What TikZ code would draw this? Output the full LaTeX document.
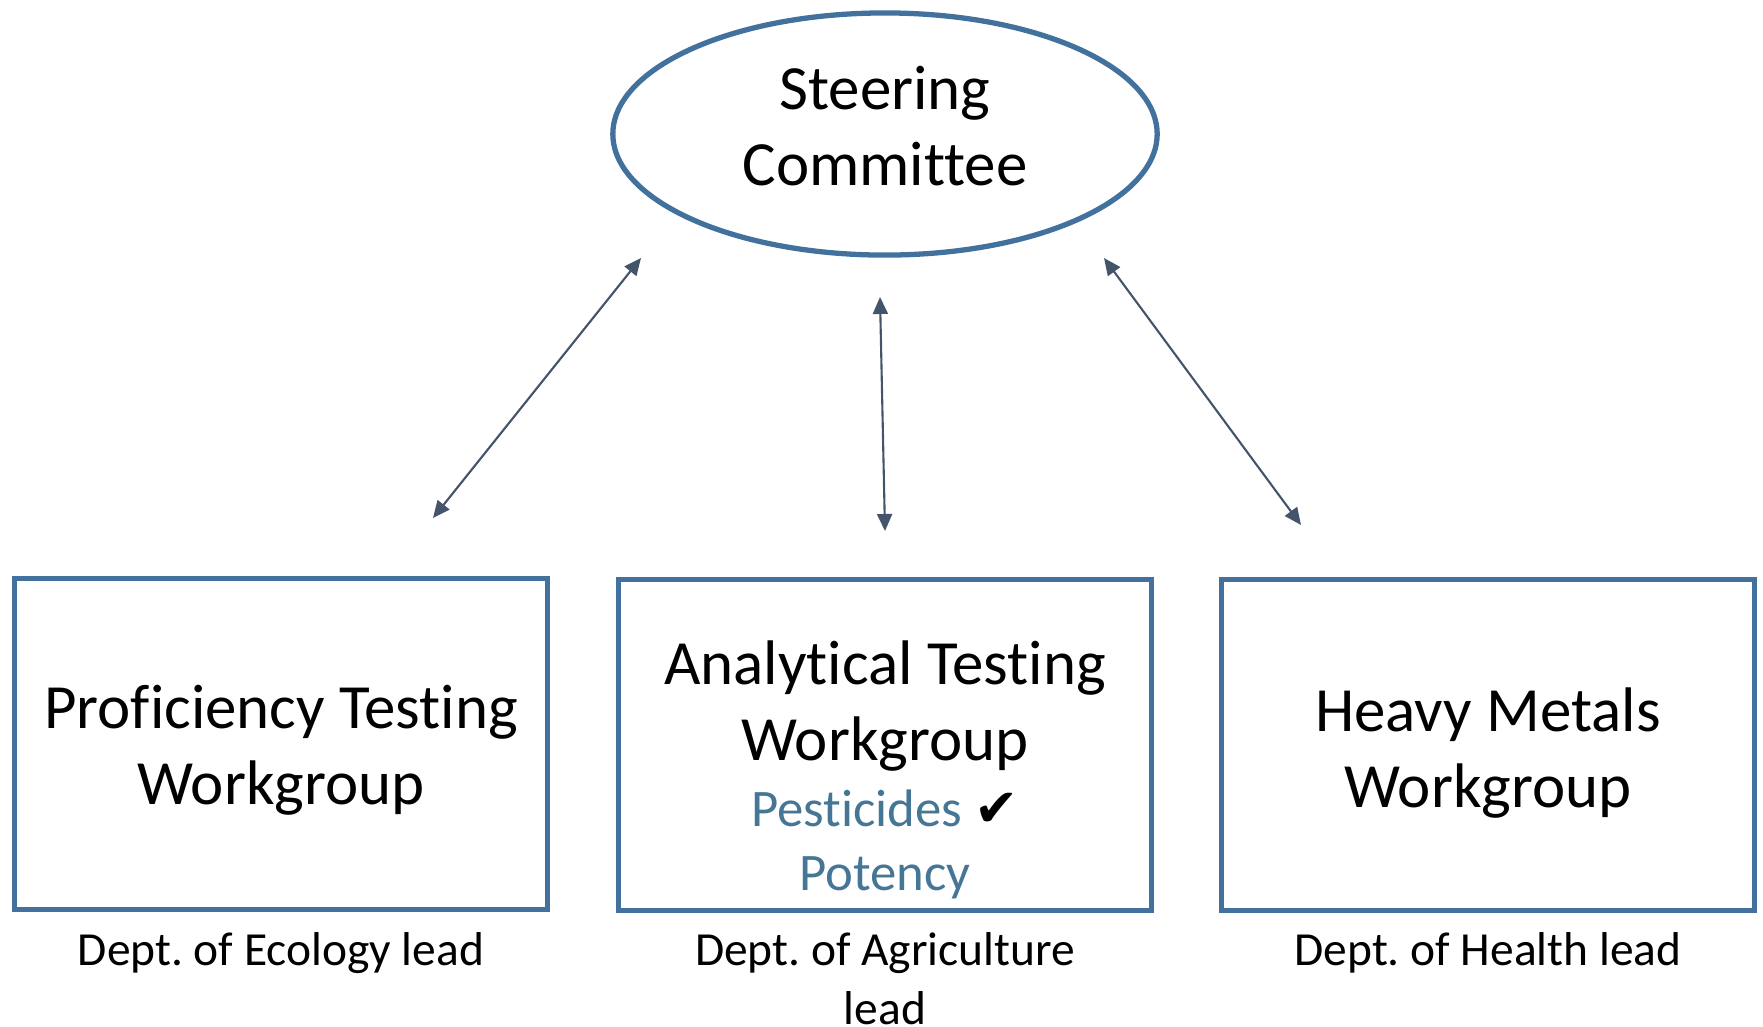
\documentclass[tikz,border=0pt]{standalone}
\usepackage{fontspec}
\setmainfont{Carlito}[Ligatures=NoCommon]
\newfontfamily\symfont{DejaVu Sans}
\usepackage{tikz}
\usetikzlibrary{arrows.meta,
                positioning,
                shapes.geometric}
\definecolor{boxblue}{HTML}{41719C}
\definecolor{itemblue}{HTML}{467696}
\definecolor{linkgray}{HTML}{44546A}
\frenchspacing

\begin{document}
\begin{tikzpicture}[x=0.01cm,y=-0.01cm,
    committee/.style={draw=boxblue,line width=1.5pt,ellipse,inner sep=0pt,
      minimum width=5.44cm,minimum height=2.42cm},
    wgbox/.style={draw=boxblue,line width=1.4pt,rectangle,
      minimum width=5.33cm,minimum height=3.31cm},
    title/.style={align=center,inner sep=0pt,font=\fontsize{17.9}{21.6}\selectfont},
    items/.style={align=center,inner sep=0pt,text=itemblue,font=\fontsize{15}{18.2}\selectfont},
    lead/.style={align=center,inner sep=0pt,font=\fontsize{13.5}{16.6}\selectfont},
    link/.style={draw=linkgray,line width=0.6pt,
      {Triangle[length=0.17cm,width=0.15cm]}-{Triangle[length=0.17cm,width=0.15cm]}}]
  \useasboundingbox (0,0) rectangle (1763,1026);

  \node[committee] (SC) at (885,134) {};
  \node[title] (T-0) at (885,126) {Steering\\Committee};

  \node[wgbox] (WG-1) at (281,744) {};
  \node[wgbox] (WG-2) at (885,745) {};
  \node[wgbox] (WG-3) at (1488,745) {};

  \node[title] (T-1) at (281,750) {Proficiency Testing\\Workgroup};
  \node[title] (T-2) at (885,706) {Analytical Testing\\Workgroup};
  \node[title] (T-3) at (1488,753) {Heavy Metals\\Workgroup};
  \node[items] (I-2) at (885,844) {Pesticides {\symfont\color{black}✔}\\Potency};

  \foreach \x/\t [count=\i] in {281/{Dept. of Ecology lead},
                                885/{Dept. of Agriculture\\lead},
                                1488/{Dept. of Health lead}}{%
    \node[lead,anchor=north] (L-\i) at (\x,932) {\t};
  }

  % arrow ends
  \coordinate (A-1) at (433,518);  \coordinate (B-1) at (641,258);
  \coordinate (A-2) at (885,531);  \coordinate (B-2) at (880,297);
  \coordinate (A-3) at (1301,525); \coordinate (B-3) at (1104,258);
  \foreach \i in {1,2,3}{%
    \draw[link] (A-\i) -- (B-\i);
  }
\end{tikzpicture}
\end{document}
